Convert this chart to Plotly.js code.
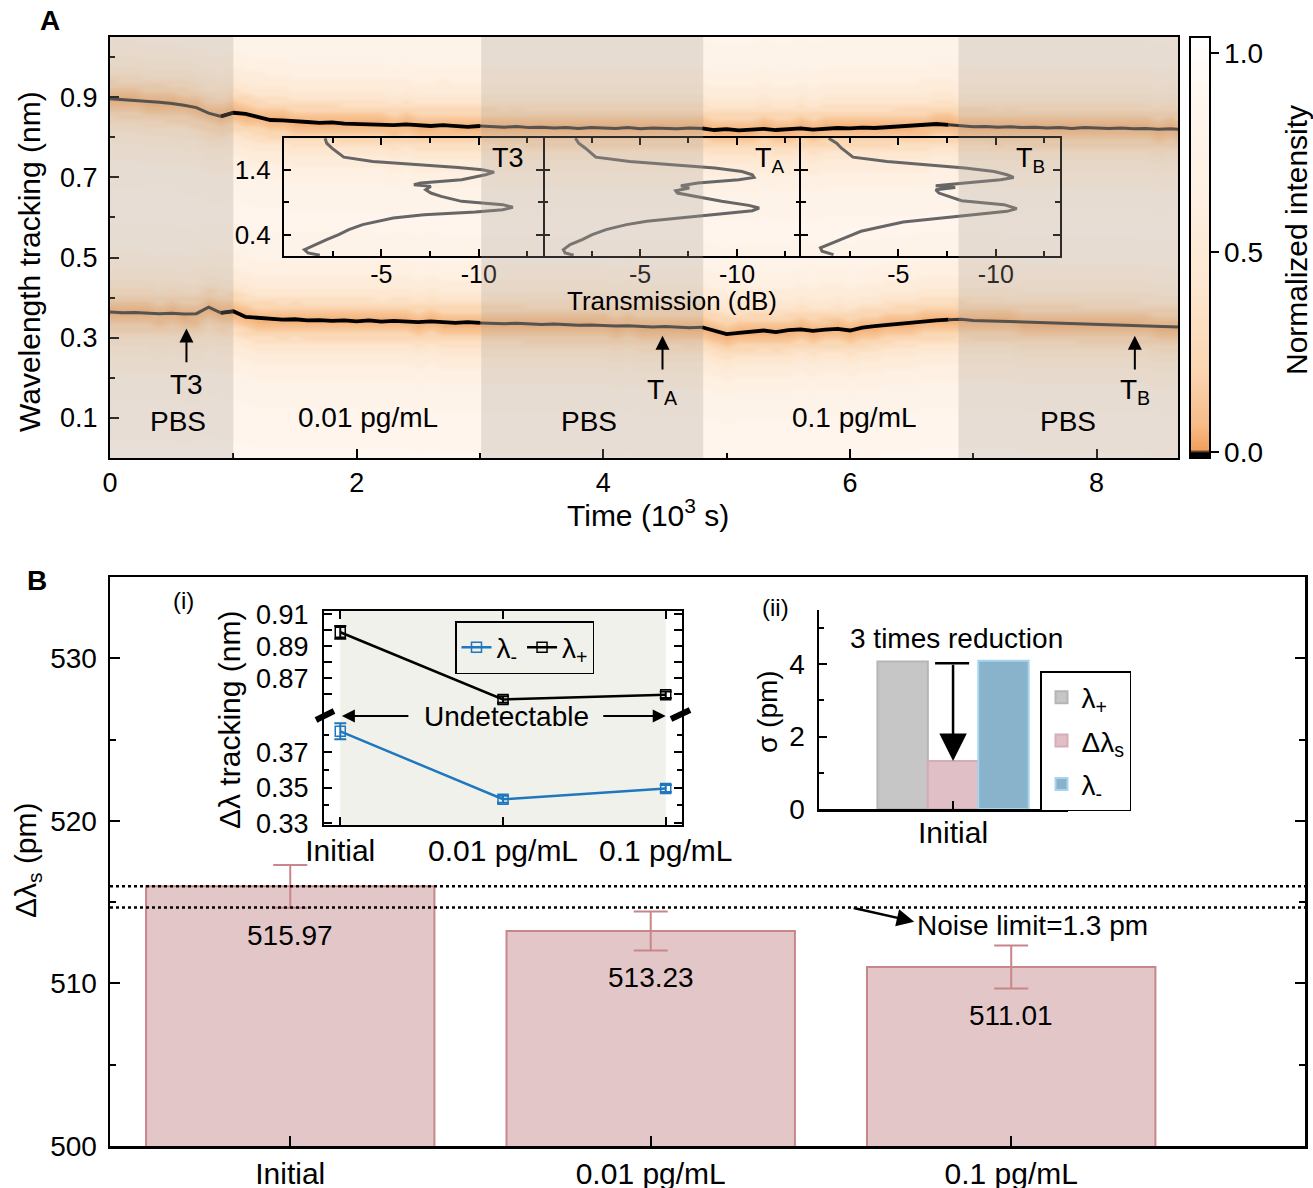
<!DOCTYPE html>
<html><head><meta charset="utf-8">
<script src="https://cdn.plot.ly/plotly-3.0.1.min.js"></script>
<style>body{margin:0;background:#fff}#chart{width:1313px;height:1188px}</style>
</head><body><div id="chart"></div>
<script>
// ================= DATA =================
// Panel A: wavelength tracking vs time (10^3 s)
const timeK = [0,0.1,0.2,0.3,0.4,0.5,0.6,0.7,0.8,0.9,1.0,1.1,1.2,1.3,1.4,1.5,1.6,1.7,1.8,1.9,2.0,2.1,2.2,2.3,2.4,2.5,2.6,2.7,2.8,2.9,3.0,3.1,3.2,3.3,3.4,3.5,3.6,3.7,3.8,3.9,4.0,4.1,4.2,4.3,4.4,4.5,4.6,4.7,4.8,4.9,5.0,5.1,5.2,5.3,5.4,5.5,5.6,5.7,5.8,5.9,6.0,6.1,6.2,6.3,6.4,6.5,6.6,6.7,6.8,6.9,7.0,7.1,7.2,7.3,7.4,7.5,7.6,7.7,7.8,7.9,8.0,8.1,8.2,8.3,8.4,8.5,8.6,8.66];
const trackUpper = [
 0.896,0.894,0.892,0.889,0.887,0.884,0.880,0.874,0.860,0.852,
 0.861,0.858,0.850,0.843,0.842,0.839,0.838,0.836,0.837,0.834,
 0.833,0.834,0.831,0.830,0.832,0.829,0.828,0.830,0.827,0.826,
 0.828,0.826,0.825,0.827,0.824,0.825,0.823,0.824,0.822,0.824,
 0.823,0.822,0.824,0.821,0.823,0.822,0.821,0.823,0.822,0.818,
 0.820,0.817,0.819,0.821,0.818,0.820,0.822,0.819,0.821,0.823,
 0.822,0.824,0.823,0.825,0.826,0.828,0.830,0.833,0.831,0.828,
 0.826,0.827,0.825,0.826,0.824,0.825,0.823,0.824,0.822,0.824,
 0.823,0.822,0.823,0.821,0.822,0.820,0.821,0.820];
const trackLower = [
 0.364,0.362,0.363,0.361,0.360,0.361,0.359,0.360,0.376,0.362,
 0.366,0.352,0.349,0.347,0.345,0.346,0.343,0.344,0.342,0.343,
 0.341,0.343,0.340,0.342,0.341,0.339,0.341,0.338,0.337,0.339,
 0.337,0.336,0.335,0.336,0.334,0.333,0.334,0.332,0.331,0.332,
 0.330,0.329,0.330,0.328,0.327,0.328,0.326,0.325,0.326,0.318,
 0.309,0.312,0.315,0.318,0.314,0.319,0.321,0.317,0.320,0.322,
 0.318,0.325,0.329,0.332,0.336,0.339,0.341,0.343,0.345,0.346,
 0.343,0.342,0.341,0.340,0.339,0.338,0.337,0.336,0.335,0.334,
 0.333,0.332,0.331,0.331,0.330,0.329,0.328,0.327];
const phaseEdges = [0, 1.0, 3.01, 4.81, 6.88, 8.66];
const phaseNames = ['PBS', '0.01 pg/mL', 'PBS', '0.1 pg/mL', 'PBS'];
const phaseIsPBS = [true, false, true, false, true];
// intensity profile of the spectrogram around each tracked resonance
const glowDist  = [0, 0.01, 0.02, 0.03, 0.045, 0.06, 0.08, 0.11, 0.15, 0.22, 0.32];
const glowLevel = [0.05, 0.09, 0.15, 0.23, 0.33, 0.43, 0.54, 0.65, 0.75, 0.84, 0.91];

// Panel A insets: transmission spectra (dB) vs wavelength
const specT3_wl = [1.887,1.810,1.733,1.656,1.595,1.528,1.477,1.436,1.400,1.364,1.323,1.246,1.195,1.169,1.144,1.092,1.041,0.990,0.913,0.862,0.821,0.785,0.749,0.708,0.656,0.605,0.554,0.477,0.400,0.323,0.246,0.169,0.118,0.082];
const specT3_dB = [-2.11,-2.19,-2.46,-2.81,-3.07,-4.56,-7.19,-8.95,-10.18,-10.79,-10.35,-9.12,-7.02,-6.67,-7.54,-7.28,-7.54,-8.07,-9.12,-11.23,-11.75,-11.23,-9.82,-7.19,-5.61,-4.74,-4.04,-3.33,-2.81,-2.19,-1.58,-1.05,-1.23,-1.84];
const specTA_wl = [1.887,1.810,1.733,1.656,1.595,1.528,1.477,1.426,1.374,1.323,1.282,1.246,1.195,1.154,1.118,1.077,1.041,0.990,0.913,0.851,0.810,0.769,0.728,0.682,0.605,0.554,0.477,0.400,0.323,0.246,0.169,0.118,0.082];
const specTA_dB = [-1.67,-1.84,-2.19,-2.46,-2.72,-4.47,-6.75,-8.86,-10.26,-10.79,-10.88,-10.09,-7.98,-7.11,-7.54,-6.84,-6.93,-7.81,-9.21,-10.61,-11.14,-10.79,-9.39,-7.63,-5.35,-4.30,-3.25,-2.54,-2.02,-1.40,-1.05,-1.14,-1.58];
const specTB_wl = [1.887,1.810,1.733,1.656,1.595,1.528,1.477,1.426,1.374,1.323,1.282,1.246,1.195,1.154,1.128,1.092,1.041,0.990,0.923,0.862,0.800,0.759,0.718,0.656,0.595,0.528,0.451,0.349,0.272,0.195,0.144,0.092];
const specTB_dB = [-1.42,-1.83,-2.08,-2.42,-2.67,-4.42,-6.42,-8.42,-9.92,-10.58,-10.92,-10.25,-8.42,-6.92,-7.92,-6.92,-7.08,-7.58,-8.25,-10.42,-11.08,-10.58,-9.25,-6.92,-5.25,-4.25,-3.08,-2.25,-1.58,-1.00,-1.08,-1.67];
const specNames = ['T3', 'T<sub>A</sub>', 'T<sub>B</sub>'];
const markTimes = [0.62, 4.48, 8.31];

// Panel B: Δλs bars
const catB = ['Initial', '0.01 pg/mL', '0.1 pg/mL'];
const dLambdaS = [515.97, 513.23, 511.01];
const dLambdaSErr = [1.32, 1.2, 1.32];
const noiseLimit = 1.3;
// Inset (i)
const lamPlus = [0.8987, 0.8567, 0.8597];
const lamPlusErr = [0.004, 0.002, 0.002];
const lamMinus = [0.3818, 0.3435, 0.3496];
const lamMinusErr = [0.0045, 0.002, 0.002];
// Inset (ii)
const sigmaCat = ['Initial'];
const sigmaNames = ['λ<sub>+</sub>', 'Δλ<sub>s</sub>', 'λ<sub>-</sub>'];
const sigmaVals = [4.08, 1.33, 4.1];

// ================= LAYOUT HELPERS =================
const W = 1313, H = 1188;
const fx = p => p / W;
const fy = p => 1 - p / H;
const FONT = 'Liberation Sans, Arial, Helvetica, sans-serif';
function ax(o) {
  return Object.assign({showline: true, linecolor: '#000', linewidth: 2, ticks: 'inside', tickcolor: '#000',
    tickwidth: 2, ticklen: 9, showgrid: false, zeroline: false, tickfont: {size: 27, color: '#000', family: FONT}}, o);
}
const minorStyle = (o) => Object.assign({ticks: 'inside', ticklen: 5, tickwidth: 2, tickcolor: '#000', showgrid: false}, o);
const tf = s => ({size: s, color: '#000', family: FONT});

// ================= TRACES =================
const traces = [];
const wlGrid = Array.from({length: 107}, (_, i) => i / 100);
function glowAt(d) {
  let v = glowLevel[glowLevel.length - 1];
  for (let k = 1; k < glowDist.length; k++) { if (d < glowDist[k]) { v = glowLevel[k - 1]; break; } }
  return v;
}
const zMap = wlGrid.map(w => timeK.map((t, j) => glowAt(Math.min(Math.abs(w - trackUpper[j]), Math.abs(w - trackLower[j])))));
traces.push({
  type: 'heatmap', x: timeK, y: wlGrid, z: zMap, zmin: -0.015, zmax: 1.04, zsmooth: 'best', hoverinfo: 'skip',
  colorscale: [[0, '#000000'], [0.012, '#000000'], [0.02, '#f0a060'], [0.08, '#f6bc88'], [0.2, '#fad5b0'],
               [0.4, '#fde6cf'], [0.65, '#fef1e4'], [0.85, '#fff6ee'], [1, '#ffffff']],
  colorbar: {x: fx(1190), xanchor: 'left', xpad: 0, y: fy(247.5), yanchor: 'middle', ypad: 0, len: 421, lenmode: 'pixels',
    thickness: 20, outlinewidth: 2, outlinecolor: '#000', tickvals: [0, 0.5, 1], ticktext: ['0.0', '0.5', '1.0'],
    ticks: 'outside', ticklen: 8, tickwidth: 2, tickcolor: '#000', tickfont: tf(28)},
  xaxis: 'x', yaxis: 'y'
});
[trackUpper, trackLower].forEach(track => {
  for (let p = 0; p < phaseNames.length; p++) {
    const xs = [], ys = [];
    let first = timeK.findIndex(t => t >= phaseEdges[p] - 1e-9);
    if (first > 0) first -= 1;
    for (let j = first; j < timeK.length && timeK[j] <= phaseEdges[p + 1] + 1e-9; j++) { xs.push(timeK[j]); ys.push(track[j]); }
    traces.push({type: 'scatter', mode: 'lines', x: xs, y: ys, xaxis: 'x', yaxis: 'y', showlegend: false, hoverinfo: 'skip',
      line: {color: phaseIsPBS[p] ? '#363636' : '#000', width: phaseIsPBS[p] ? 3 : 3.8}});
  }
});
[[specT3_dB, specT3_wl], [specTA_dB, specTA_wl], [specTB_dB, specTB_wl]].forEach((s, i) => {
  traces.push({type: 'scatter', mode: 'lines', x: s[0], y: s[1], xaxis: 'x' + (i + 2), yaxis: 'y' + (i + 2),
    showlegend: false, hoverinfo: 'skip', line: {color: '#666', width: 3}});
});
traces.push({type: 'bar', x: catB, y: dLambdaS, xaxis: 'x5', yaxis: 'y5', showlegend: false, hoverinfo: 'skip',
  marker: {color: '#e3c7c8', line: {color: '#c9868a', width: 2}},
  error_y: {type: 'data', array: dLambdaSErr, color: '#c9868a', thickness: 2, width: 17}});
traces.push({type: 'scatter', mode: 'lines+markers', name: 'λ<sub>-</sub>', x: catB, y: lamMinus, xaxis: 'x6', yaxis: 'y7',
  legend: 'legend', hoverinfo: 'skip', line: {color: '#1f77c0', width: 2.5},
  marker: {symbol: 'square-open', size: 10, color: '#1f77c0', line: {width: 1.5}},
  error_y: {type: 'data', array: lamMinusErr, color: '#1f77c0', thickness: 2, width: 6}});
traces.push({type: 'scatter', mode: 'lines+markers', name: 'λ<sub>+</sub>', x: catB, y: lamPlus, xaxis: 'x6', yaxis: 'y6',
  legend: 'legend', hoverinfo: 'skip', line: {color: '#000', width: 2.5},
  marker: {symbol: 'square-open', size: 10, color: '#000', line: {width: 1.5}},
  error_y: {type: 'data', array: lamPlusErr, color: '#000', thickness: 2, width: 6}});
traces.push({type: 'scatter', mode: 'markers', x: catB, y: [null, null, null], xaxis: 'x7', yaxis: 'y6', showlegend: false, hoverinfo: 'skip'});
const sigmaFill = ['#c6c6c6', '#e0bfc6', '#88b3cb'];
const sigmaLine = ['#b5b5b5', '#d6adb6', '#a6d5ee'];
sigmaVals.forEach((v, i) => {
  traces.push({type: 'bar', name: sigmaNames[i], x: sigmaCat, y: [v], xaxis: 'x8', yaxis: 'y8', legend: 'legend2',
    legendgroup: 'g' + i, hoverinfo: 'skip', marker: {color: sigmaFill[i], line: {color: sigmaLine[i], width: 2}}});
});

// ================= SHAPES =================
const shapes = [];
phaseNames.forEach((n, p) => {
  if (phaseIsPBS[p]) shapes.push({type: 'rect', xref: 'x', yref: 'y domain', x0: phaseEdges[p], x1: phaseEdges[p + 1], y0: 0, y1: 1,
    fillcolor: 'rgba(170,160,146,0.27)', line: {width: 0}, layer: 'above'});
});
shapes.push({type: 'rect', xref: 'x6', yref: 'paper', x0: 0, x1: 2, y0: fy(825), y1: fy(611), fillcolor: '#f0f1ea', line: {width: 0}, layer: 'below'});
[dLambdaS[0], dLambdaS[0] - noiseLimit].forEach(v => {
  shapes.push({type: 'line', xref: 'x5 domain', yref: 'y5', x0: 0, x1: 1, y0: v, y1: v, line: {color: '#000', width: 2.5, dash: 'dot'}});
});
shapes.push({type: 'line', xref: 'paper', yref: 'paper', x0: fx(316), y0: fy(720), x1: fx(334), y1: fy(711), line: {color: '#000', width: 6}});
shapes.push({type: 'line', xref: 'paper', yref: 'paper', x0: fx(671), y0: fy(719), x1: fx(690), y1: fy(710), line: {color: '#000', width: 6}});
shapes.push({type: 'line', xref: 'x8', yref: 'y8', x0: -0.095, x1: 0.085, y0: sigmaVals[0] - 0.05, y1: sigmaVals[0] - 0.05, line: {color: '#000', width: 2.5}});

// ================= ANNOTATIONS =================
const ann = [];
const txt = (x, y, text, size, extra) => Object.assign({xref: 'paper', yref: 'paper', x: fx(x), y: fy(y), text: text, showarrow: false,
  xanchor: 'center', yanchor: 'middle', font: tf(size)}, extra || {});
ann.push(txt(50, 20, '<b>A</b>', 28));
ann.push(txt(37, 580, '<b>B</b>', 28));
ann.push(txt(29, 262, 'Wavelength tracking (nm)', 30, {textangle: -90}));
ann.push(txt(648, 513, 'Time (10<sup>3</sup> s)', 30));
ann.push(txt(1297, 240, 'Normalized intensity', 30, {textangle: -90}));
ann.push(txt(672, 301, 'Transmission (dB)', 26));
const phaseLabelX = [0.55, 2.09, 3.88, 6.04, 7.77];
phaseNames.forEach((n, p) => ann.push({xref: 'x', yref: 'y', x: phaseLabelX[p], y: phaseIsPBS[p] ? 0.09 : 0.1, text: n, showarrow: false,
  font: tf(28)}));
const markHead = [0.323, 0.305, 0.305], markTail = [0.235, 0.217, 0.217], markLabelY = [0.184, 0.167, 0.167];
markTimes.forEach((t, i) => {
  ann.push({xref: 'x', yref: 'y', x: t, y: markHead[i], axref: 'x', ayref: 'y', ax: t, ay: markTail[i], text: '', showarrow: true,
    arrowhead: 2, arrowsize: 1.4, arrowwidth: 2, arrowcolor: '#000'});
  ann.push({xref: 'x', yref: 'y', x: t, y: markLabelY[i], text: specNames[i], showarrow: false, font: tf(28)});
});
[[508, 158], [770, 160], [1030, 160]].forEach((p, i) => ann.push(txt(p[0], p[1], specNames[i], 27)));
ann.push(txt(27, 860, 'Δλ<sub>s</sub> (pm)', 30, {textangle: -90}));
dLambdaS.forEach((v, i) => ann.push({xref: 'x5', yref: 'y5', x: i, y: v - dLambdaSErr[i], yanchor: 'top', yshift: -10,
  text: v.toFixed(2), showarrow: false, font: tf(28)}));
ann.push({xref: 'x5', yref: 'y5', x: 1.731, y: 513.8, axref: 'x5', ayref: 'y5', ax: 1.559, ay: 514.66, text: '', showarrow: true,
  arrowhead: 2, arrowsize: 1.4, arrowwidth: 2.5, arrowcolor: '#000'});
ann.push({xref: 'x5', yref: 'y5', x: 2.058, y: 513.56, text: 'Noise limit=' + noiseLimit + ' pm', showarrow: false, font: tf(28)});
ann.push(txt(183, 600, '(i)', 24));
ann.push(txt(775, 607, '(ii)', 24));
ann.push(txt(229, 720, 'Δλ tracking (nm)', 30, {textangle: -90}));
ann.push({xref: 'x6', yref: 'paper', x: 1.02, y: fy(716), text: 'Undetectable', showarrow: false, font: tf(28)});
ann.push({xref: 'x6', yref: 'paper', x: 0.01, y: fy(716), ax: 68, ay: 0, text: '', showarrow: true, arrowhead: 2, arrowsize: 1.3, arrowwidth: 2, arrowcolor: '#000'});
ann.push({xref: 'x6', yref: 'paper', x: 2.0, y: fy(716), ax: -64, ay: 0, text: '', showarrow: true, arrowhead: 2, arrowsize: 1.3, arrowwidth: 2, arrowcolor: '#000'});
ann.push(txt(956, 638, '3 times reduction', 28));
ann.push(txt(767, 712, 'σ (pm)', 28, {textangle: -90}));
ann.push({xref: 'x8', yref: 'y8', x: 0, y: sigmaVals[1], axref: 'x8', ayref: 'y8', ax: 0, ay: sigmaVals[0] - 0.05, text: '', showarrow: true,
  arrowhead: 2, arrowsize: 2.2, arrowwidth: 2.5, arrowcolor: '#000'});

// ================= LAYOUT =================
const insetX = [[284, 543], [543, 801], [801, 1060]];
const layout = {
  width: W, height: H, margin: {l: 0, r: 0, t: 0, b: 0}, paper_bgcolor: '#fff', plot_bgcolor: 'rgba(0,0,0,0)',
  font: {family: FONT, size: 27, color: '#000'}, bargap: 0.2, barmode: 'group', bargroupgap: 0,
  xaxis: ax({domain: [fx(110), fx(1178)], anchor: 'y', range: [0, 8.66], tick0: 0, dtick: 2, mirror: true, ticklabelstandoff: 0,
    minor: minorStyle({dtick: 1})}),
  yaxis: ax({domain: [fy(458), fy(37)], anchor: 'x', range: [0, 1.05], tick0: 0.1, dtick: 0.2, tickformat: '.1f', mirror: true,
    ticklabelstandoff: 5, minor: minorStyle({tick0: 0, dtick: 0.1})}),
  xaxis5: ax({domain: [fx(110), fx(1305)], anchor: 'y5', type: 'category', categoryorder: 'array', categoryarray: catB,
    range: [-0.5, 2.815], mirror: true, ticklen: 10, linewidth: 2.5, ticklabelstandoff: -1, tickfont: tf(30)}),
  yaxis5: ax({domain: [fy(1146), fy(577)], anchor: 'x5', range: [500, 535], tick0: 500, dtick: 10, mirror: 'ticks', ticklen: 10,
    linewidth: 2.5, ticklabelstandoff: 5, tickfont: tf(28), minor: minorStyle({dtick: 5, ticklen: 6})}),
  xaxis6: ax({domain: [fx(324), fx(682)], anchor: 'y7', type: 'category', categoryorder: 'array', categoryarray: catB,
    range: [-0.1, 2.1], ticklen: 8, ticklabelstandoff: -2, tickfont: tf(30)}),
  xaxis7: ax({domain: [fx(324), fx(682)], anchor: 'y6', side: 'top', type: 'category', categoryorder: 'array', categoryarray: catB,
    range: [-0.1, 2.1], ticklen: 8, showticklabels: false}),
  yaxis6: ax({domain: [fy(715), fy(611)], anchor: 'x6', range: [0.847, 0.912], tickvals: [0.87, 0.89, 0.91], tickformat: '.2f',
    mirror: 'allticks', ticklen: 8, ticklabelstandoff: 8, minor: minorStyle({tickvals: [0.86, 0.88, 0.9]})}),
  yaxis7: ax({domain: [fy(825), fy(715)], anchor: 'x6', range: [0.329, 0.391], tickvals: [0.33, 0.35, 0.37], tickformat: '.2f',
    mirror: 'allticks', ticklen: 8, ticklabelstandoff: 8, minor: minorStyle({tickvals: [0.34, 0.36, 0.38]})}),
  xaxis8: ax({domain: [fx(819), fx(1068)], anchor: 'y8', type: 'category', range: [-0.709, 0.608], ticklen: 8, linewidth: 2.5,
    ticklabelstandoff: -5, tickfont: tf(30)}),
  yaxis8: ax({domain: [fy(809), fy(610)], anchor: 'x8', range: [0, 5.5], tick0: 0, dtick: 2, ticklen: 8, linewidth: 2.5,
    ticklabelstandoff: 6, tickfont: tf(28), minor: minorStyle({dtick: 1})}),
  legend: {x: fx(455), y: fy(621), xanchor: 'left', yanchor: 'top', orientation: 'h', bordercolor: '#000', borderwidth: 1.5,
    bgcolor: 'rgba(0,0,0,0)', font: tf(28)},
  legend2: {x: fx(1040), y: fy(671), xanchor: 'left', yanchor: 'top', orientation: 'v', bordercolor: '#000', borderwidth: 1.5,
    bgcolor: '#fff', tracegroupgap: 4, font: tf(28)},
  shapes: shapes, annotations: ann
};
insetX.forEach((xr, i) => {
  const n = i + 2;
  layout['xaxis' + n] = ax({domain: [fx(xr[0]), fx(xr[1])], anchor: 'y' + n, range: [0, -13.3], tickvals: [-5, -10], ticktext: ['-5', '-10'],
    mirror: 'allticks', ticklen: 7, tickfont: tf(25), ticklabelstandoff: -5,
    minor: minorStyle({tickvals: [-2.5, -7.5, -12.5]})});
  // middle inset box borrows its side lines from its neighbours to avoid doubled borders
  layout['yaxis' + n] = ax({domain: [fy(256), fy(138)], anchor: 'x' + n, range: [0.07, 1.89], tickvals: [0.4, 1.4], tickformat: '.1f',
    showline: i !== 1, mirror: 'allticks', ticklen: 7, showticklabels: i === 0, ticklabelstandoff: 6, tickfont: tf(26),
    minor: minorStyle({tickvals: [0.9]})});
});

Plotly.newPlot('chart', traces, layout, {displayModeBar: false, staticPlot: true});
</script>
</body></html>
